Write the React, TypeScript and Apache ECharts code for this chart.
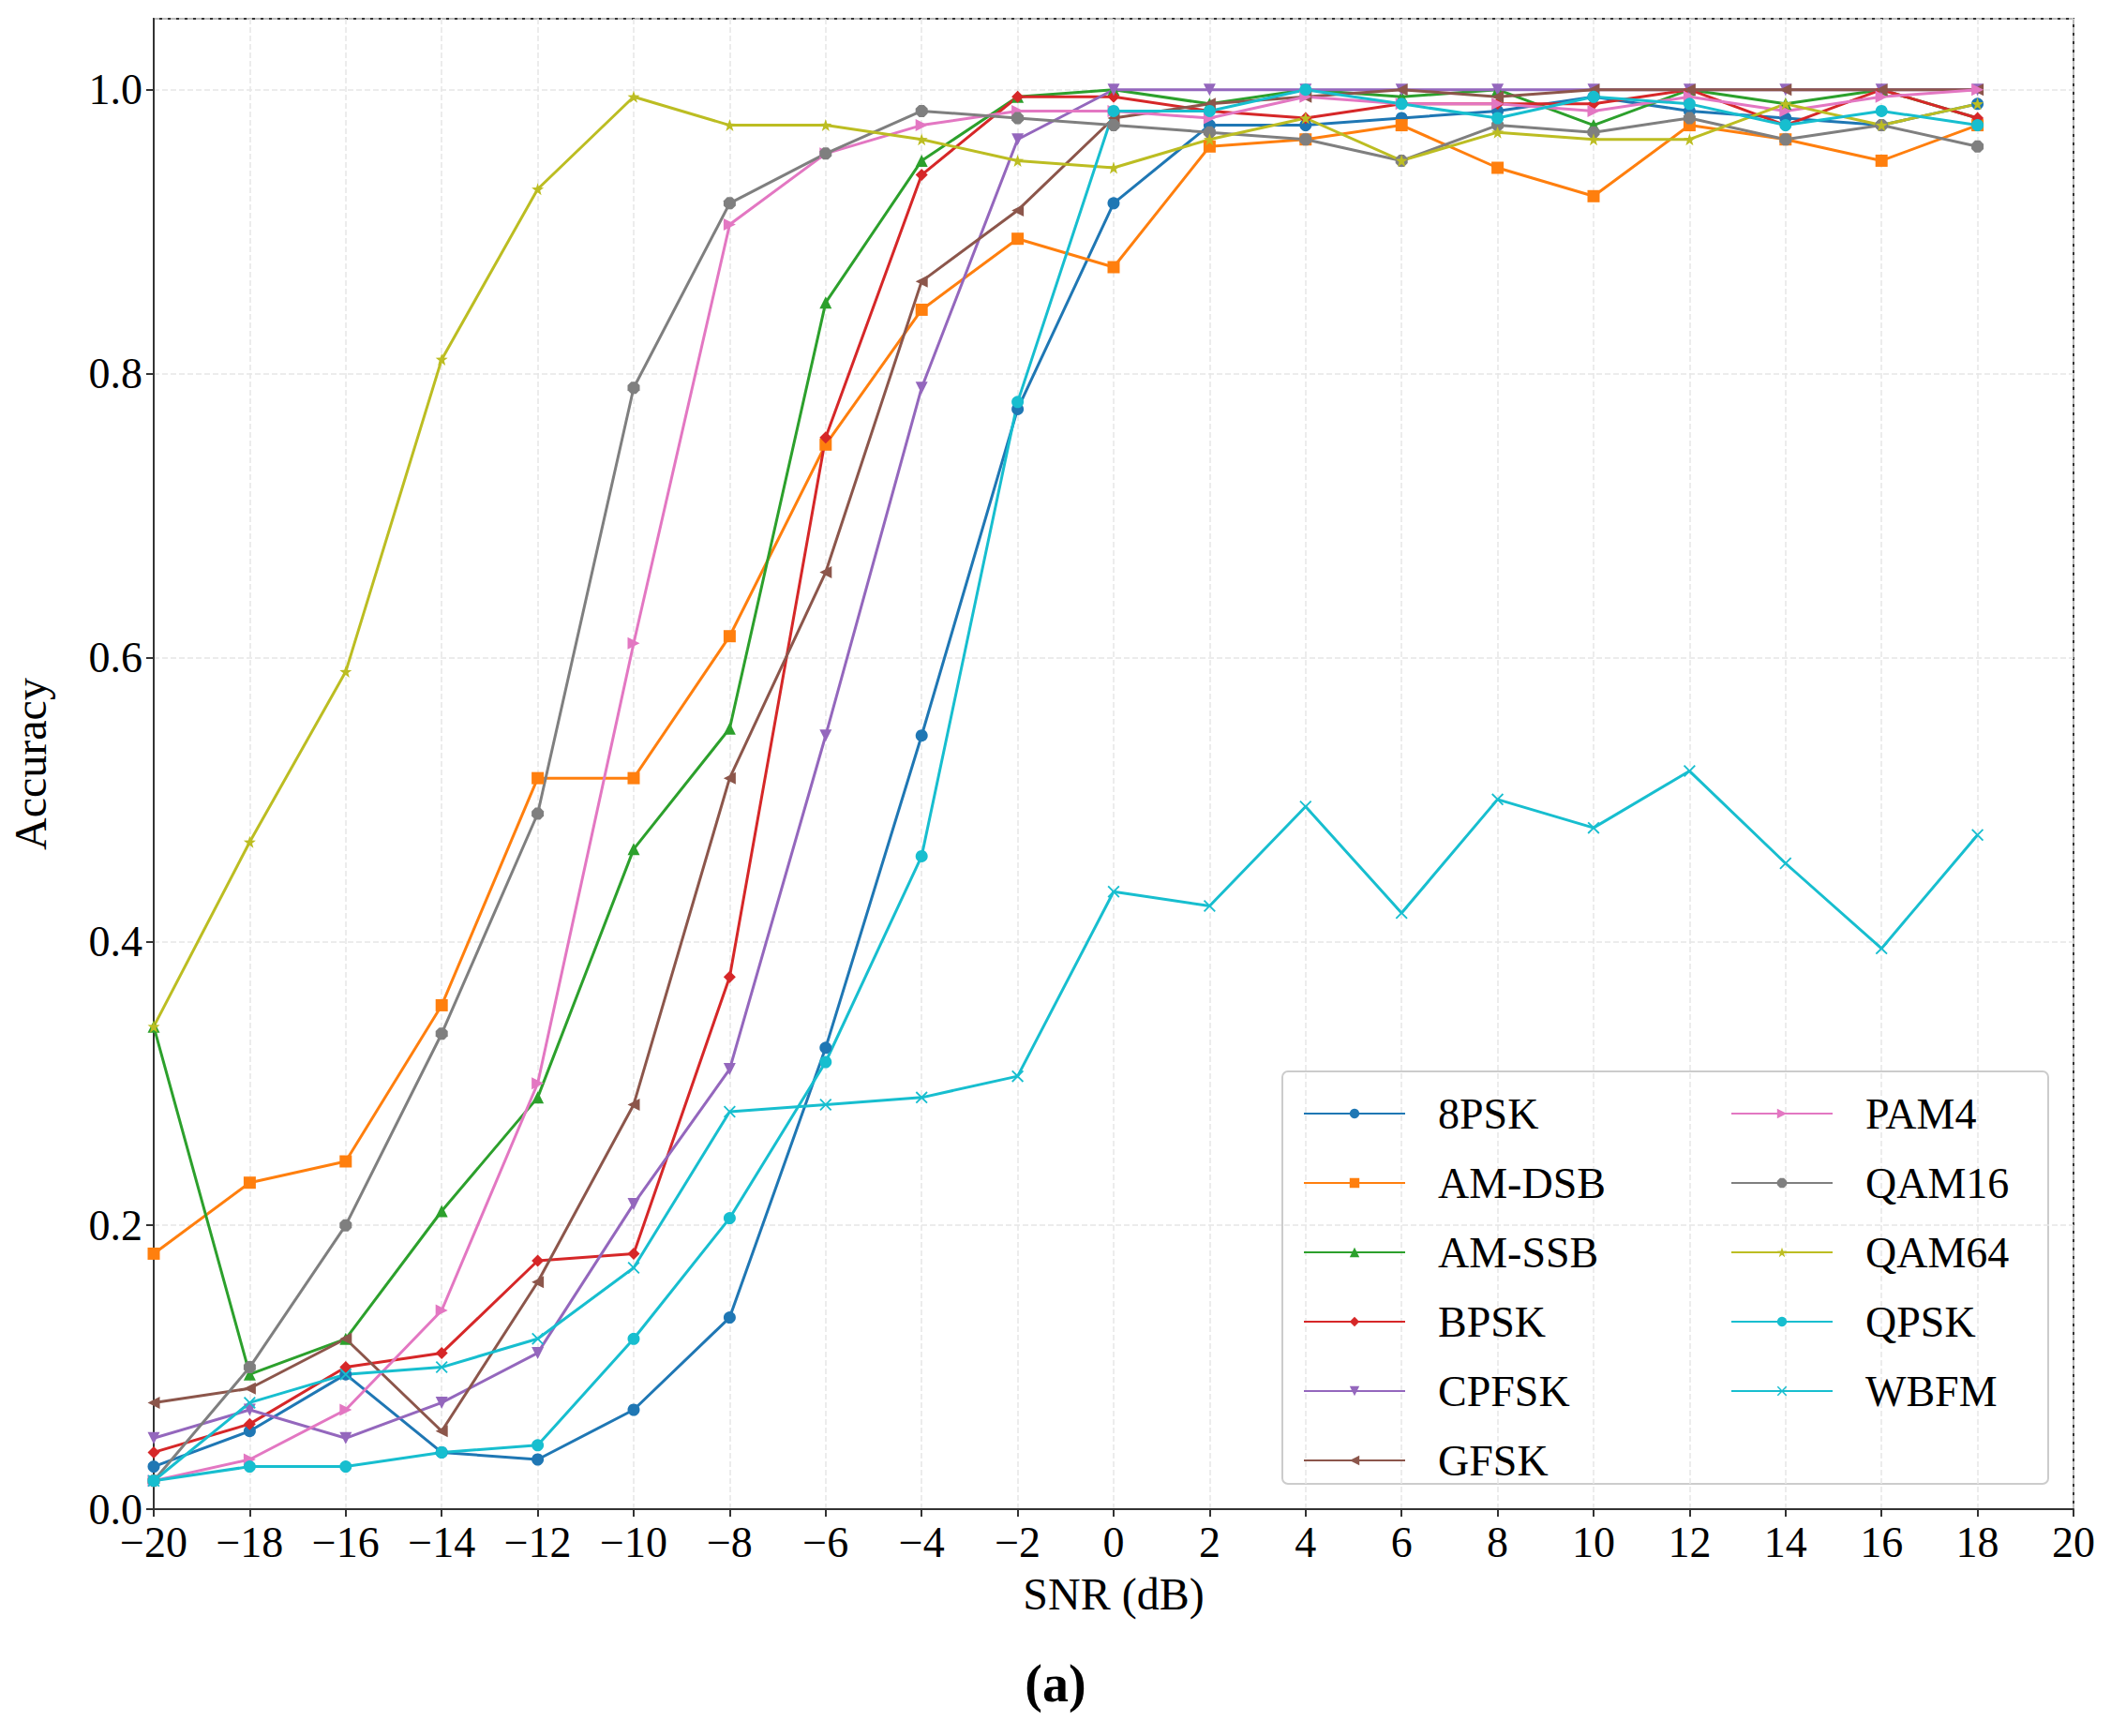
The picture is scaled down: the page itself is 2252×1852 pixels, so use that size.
import React, { useEffect, useRef } from "react";
import * as echarts from "echarts";

const snr = [-20,-18,-16,-14,-12,-10,-8,-6,-4,-2,0,2,4,6,8,10,12,14,16,18];
const names = ["8PSK","AM-DSB","AM-SSB","BPSK","CPFSK","GFSK","PAM4","QAM16","QAM64","QPSK","WBFM"];
const s8PSK = [0.03,0.055,0.095,0.04,0.035,0.07,0.135,0.325,0.545,0.775,0.92,0.975,0.975,0.98,0.985,0.995,0.985,0.98,0.975,0.99];
const sAMDSB = [0.18,0.23,0.245,0.355,0.515,0.515,0.615,0.75,0.845,0.895,0.875,0.96,0.965,0.975,0.945,0.925,0.975,0.965,0.95,0.975];
const sAMSSB = [0.34,0.095,0.12,0.21,0.29,0.465,0.55,0.85,0.95,0.995,1.0,0.99,1.0,0.995,1.0,0.975,1.0,0.99,1.0,0.98];
const sBPSK = [0.04,0.06,0.1,0.11,0.175,0.18,0.375,0.755,0.94,0.995,0.995,0.985,0.98,0.99,0.99,0.99,1.0,0.975,1.0,0.98];
const sCPFSK = [0.05,0.07,0.05,0.075,0.11,0.215,0.31,0.545,0.79,0.965,1.0,1.0,1.0,1.0,1.0,1.0,1.0,1.0,1.0,1.0];
const sGFSK = [0.075,0.085,0.12,0.055,0.16,0.285,0.515,0.66,0.865,0.915,0.98,0.99,0.995,1.0,0.995,1.0,1.0,1.0,1.0,1.0];
const sPAM4 = [0.02,0.035,0.07,0.14,0.3,0.61,0.905,0.955,0.975,0.985,0.985,0.98,0.995,0.99,0.99,0.985,0.995,0.985,0.995,1.0];
const sQAM16 = [0.02,0.1,0.2,0.335,0.49,0.79,0.92,0.955,0.985,0.98,0.975,0.97,0.965,0.95,0.975,0.97,0.98,0.965,0.975,0.96];
const sQAM64 = [0.34,0.47,0.59,0.81,0.93,0.995,0.975,0.975,0.965,0.95,0.945,0.965,0.98,0.95,0.97,0.965,0.965,0.99,0.975,0.99];
const sQPSK = [0.02,0.03,0.03,0.04,0.045,0.12,0.205,0.315,0.46,0.78,0.985,0.985,1.0,0.99,0.98,0.995,0.99,0.975,0.985,0.975];
const sWBFM = [0.02,0.075,0.095,0.1,0.12,0.17,0.28,0.285,0.29,0.305,0.435,0.425,0.495,0.42,0.5,0.48,0.52,0.455,0.395,0.475];
const values = [s8PSK,sAMDSB,sAMSSB,sBPSK,sCPFSK,sGFSK,sPAM4,sQAM16,sQAM64,sQPSK,sWBFM];
const colors = ["#1f77b4","#ff7f0e","#2ca02c","#d62728","#9467bd","#8c564b","#e377c2","#7f7f7f","#bcbd22","#17becf","#17becf"];
const symbols = [
  "circle","rect","triangle","diamond",
  "path://M0,0 L10,0 L5,10 Z",
  "path://M0,5 L10,0 L10,10 Z",
  "path://M0,0 L10,5 L0,10 Z",
  "path://M3,0 L7,0 L10,3 L10,7 L7,10 L3,10 L0,7 L0,3 Z",
  "path://M5,0 L6.2,3.6 L10,3.8 L7,6.1 L8.1,10 L5,7.7 L1.9,10 L3,6.1 L0,3.8 L3.8,3.6 Z",
  "circle",
  "path://M0,1 L1,0 L5,4 L9,0 L10,1 L6,5 L10,9 L9,10 L5,6 L1,10 L0,9 L4,5 Z",
];

const FONT = "Liberation Serif";

export default function App() {
  const ref = useRef<HTMLDivElement>(null);
  useEffect(() => {
    document.body.style.margin = "0";
    const chart = echarts.init(ref.current!, null, { renderer: "svg" });
    const series = names.map((n, i) => ({
      name: n, type: "line", data: snr.map((x, j) => [x, values[i][j]]),
      symbol: symbols[i], symbolSize: 13,
      lineStyle: { color: colors[i], width: 3 },
      itemStyle: { color: colors[i] }, color: colors[i],
    }));
    const legendCommon = {
      orient: "vertical", itemWidth: 108, itemHeight: 13, itemGap: 28,
      textStyle: { fontFamily: FONT, fontSize: 46, color: "#000", padding: [0, 0, 0, 30] },
    };
    const axisLabelStyle = { fontFamily: FONT, fontSize: 46, color: "#000" };
    chart.setOption({
      animation: false,
      textStyle: { fontFamily: FONT },
      grid: { left: 151, right: 40, top: 20, bottom: 242, show: true, borderColor: "#333", borderWidth: 2 },
      xAxis: {
        type: "value", min: -20, max: 20, interval: 2,
        name: "SNR (dB)", nameLocation: "middle", nameGap: 66,
        nameTextStyle: { fontFamily: FONT, fontSize: 48, color: "#000" },
        axisLine: { onZero: false, lineStyle: { color: "#333", width: 2 } },
        axisTick: { length: 8, lineStyle: { color: "#333", width: 2 } },
        axisLabel: { ...axisLabelStyle, margin: 12,
          formatter: (v: number) => (v < 0 ? "\u2212" + Math.abs(v) : String(v)) },
        splitLine: { show: true, lineStyle: { color: "#e6e6e6", type: "dashed", width: 1.5 } },
      },
      yAxis: {
        type: "value", min: 0, max: 1.05, interval: 0.2,
        name: "Accuracy", nameLocation: "middle", nameGap: 108,
        nameTextStyle: { fontFamily: FONT, fontSize: 48, color: "#000" },
        axisLine: { show: true, onZero: false, lineStyle: { color: "#333", width: 2 } },
        axisTick: { show: true, length: 8, lineStyle: { color: "#333", width: 2 } },
        axisLabel: { ...axisLabelStyle, margin: 12, showMaxLabel: false,
          formatter: (v: number) => (v > 1.01 ? "" : v.toFixed(1)) },
        splitLine: { show: true, lineStyle: { color: "#e6e6e6", type: "dashed", width: 1.5 } },
      },
      legend: [
        { ...legendCommon, left: 1385, top: 1160, data: names.slice(0, 6) },
        { ...legendCommon, left: 1841, top: 1160, data: names.slice(6) },
      ],
      graphic: [
        { type: "rect", left: 1367, top: 1142, shape: { width: 817, height: 440, r: 6 },
          style: { fill: "rgba(255,255,255,0.85)", stroke: "#ccc", lineWidth: 2 }, z: 0 },
        { type: "text", left: "center", top: 1768, style: { text: "(a)", fontFamily: FONT, fontSize: 56, fontWeight: "bold", fill: "#000" } },
      ],
      series,
    });
    return () => chart.dispose();
  }, []);
  return <div ref={ref} style={{ width: 2252, height: 1852, background: "#fff" }} />;
}
